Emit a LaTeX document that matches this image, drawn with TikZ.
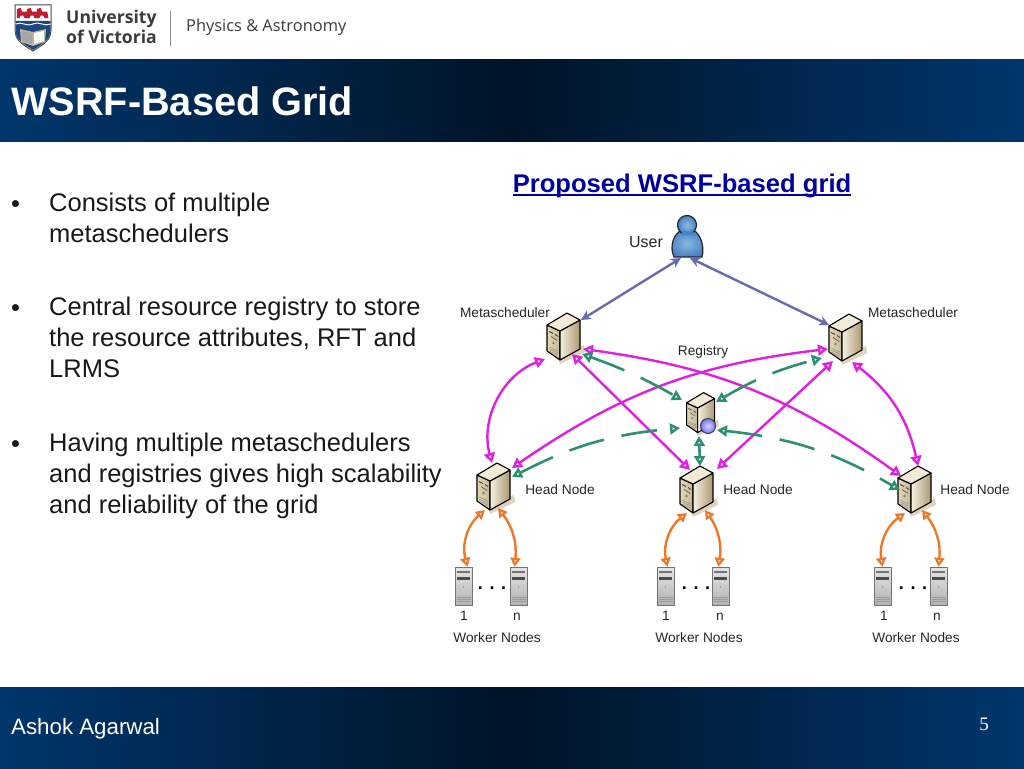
\documentclass[tikz,border=0pt]{standalone}
\usepackage{fontspec}
\setmainfont{Liberation Sans}
\newfontfamily\logofont{Open Sans}
\newfontfamily\numfont{Liberation Serif}
\usepackage{xcolor}
\usetikzlibrary{arrows.meta}

\definecolor{navy}{RGB}{0,54,108}
\definecolor{navydark}{RGB}{0,20,40}
\definecolor{titleblue}{RGB}{0,0,160}
\definecolor{userline}{RGB}{106,106,176}
\definecolor{metaline}{RGB}{224,32,224}
\definecolor{regline}{RGB}{46,144,112}
\definecolor{workline}{RGB}{238,120,40}
\definecolor{logotext}{RGB}{60,60,60}
\definecolor{srvshadow}{RGB}{222,212,190}
\definecolor{srvtop}{RGB}{242,234,214}
\definecolor{srvlight}{RGB}{246,240,225}
\definecolor{srvtan}{RGB}{172,152,112}
\definecolor{srvfront}{RGB}{226,214,182}
\definecolor{srvfrontb}{RGB}{200,184,148}
\definecolor{userblue}{RGB}{70,130,195}
\definecolor{userpale}{RGB}{140,185,225}
\definecolor{crestblue}{RGB}{30,70,130}
\definecolor{crestred}{RGB}{190,30,50}

\tikzset{
	server/.pic={
		\fill[srvshadow] (-6,20) -- (20,8) -- (21,15) -- (-4,27) -- cycle;
		\shade[left color=srvfront,right color=srvfrontb,draw=black,line width=1.1pt,line join=round]
			(-17,-12) -- (-4,-6) -- (-4,23) -- (-17,14) -- cycle;
		\shade[left color=srvlight,right color=srvtan,draw=black,line width=1.1pt,line join=round]
			(-4,-6) -- (16,-17) -- (16,12) -- (-4,23) -- cycle;
		\fill[srvtop,draw=black,line width=1.1pt,line join=round] (-17,-12) -- (3,-24) -- (16,-17) -- (-4,-6) -- cycle;
		\fill[black!75] (-15,-6) -- (-11,-4) -- (-11,-3) -- (-15,-5) -- cycle;
		\fill[black!75] (-9,-3) -- (-6,-1) -- (-6,0) -- (-9,-2) -- cycle;
		\fill[black!60] (-13,-1) -- (-7,3) -- (-7,4) -- (-13,0) -- cycle;
		\fill[black!50] (-10.5,6) circle (1.3);
		\foreach \gy in {10,12,14} {\draw[black!45,line width=0.5pt] (-15,\gy) -- (-6,\gy+4);}
	},
	worker/.pic={
		\shade[top color=black!10,bottom color=black!30,draw=black!55,line width=0.5pt] (-8.5,-19) rectangle (8.5,19);
		\fill[black!55] (-6.5,-15.5) rectangle (6.5,-13);
		\fill[black!70] (-6.5,-9) rectangle (6.5,-6.5);
		\fill[green!50!black!60] (0,1) circle (0.9);
		\foreach \gy in {11,13,15} {\draw[black!40,line width=0.4pt] (-7,\gy) -- (7,\gy);}
	},
	bird/.pic={
		\fill[crestred] (-4,-3) -- (-1,-4) -- (0,-1) -- (4,-1) -- (5,4) -- (2,4) -- (1,2) -- (-1,2) -- (-2,4) -- (-4,4) -- cycle;
	}
}

\begin{document}
\begin{tikzpicture}[x=1pt,y=-1pt]
	\tikzstyle{srv}=[minimum width=34pt,minimum height=48pt,inner sep=0pt]
	\tikzstyle{wrk}=[minimum width=17pt,minimum height=38pt,inner sep=0pt]
	\tikzstyle{lbl}=[font=\fontsize{13.7}{16}\selectfont,text=black!85,inner sep=0pt]
	\tikzstyle{dots}=[font=\fontsize{18}{20}\bfseries\selectfont,text=black,inner sep=0pt]
	\tikzstyle{bodytext}=[font=\fontsize{25.5}{31}\selectfont,align=left,anchor=north west,inner sep=0pt,text=black!90]
	\tikzstyle{bullet}=[font=\fontsize{25.5}{31}\selectfont,anchor=base west,inner sep=0pt,text=black!90]
	\tikzstyle{userarrow}=[{Stealth[length=10pt,width=10pt]}-{Stealth[length=10pt,width=10pt]},userline,line width=2.4pt]
	\tikzstyle{metaarrow}=[{Triangle[open,fill=white,length=10pt,width=11pt]}-{Triangle[open,fill=white,length=10pt,width=11pt]},metaline,line width=2.4pt]
	\tikzstyle{regarrow}=[{Triangle[open,fill=white,length=10pt,width=11pt]}-{Triangle[open,fill=white,length=10pt,width=11pt]},regline,line width=2.6pt,dash pattern=on 36pt off 18pt]
	\tikzstyle{workarrow}=[{Triangle[open,fill=white,length=9pt,width=10pt]}-{Triangle[open,fill=white,length=9pt,width=10pt]},workline,line width=2.4pt]

	\useasboundingbox (0,0) rectangle (1024,768);
	\fill[white] (0,0) rectangle (1024,768);

	% bands
	\shade[left color=navy,right color=navy,middle color=navydark] (0,59) rectangle (1024,141);
	\shade[left color=navy,right color=navy,middle color=navydark] (0,687) rectangle (1024,768);
	\node[font=\fontsize{39.7}{42}\bfseries\selectfont,text=white,anchor=west,inner sep=0pt] (title) at (11,101) {WSRF-Based Grid};
	\node[font=\fontsize{22.3}{26}\selectfont,text=white,anchor=west,inner sep=0pt] (author) at (11,729) {Ashok Agarwal};
	\node[font=\fontsize{19}{22}\numfont\selectfont,text=white,inner sep=0pt] (page) at (984,724) {5};

	% logo
	\fill[white,draw=black!70,line width=1pt] (15,5) -- (51,5) -- (51,30) .. controls (51,42) and (40,46) .. (33,51) .. controls (26,46) and (15,42) .. (15,30) -- cycle;
	\pic[scale=1.3] at (22,13) {bird};
	\pic[scale=1.3] at (32,13) {bird};
	\pic[scale=1.3] at (42,13) {bird};
	\fill[crestblue] (15.5,21) -- (50.5,21) -- (50.5,30) .. controls (50.5,41) and (40,45) .. (33,50) .. controls (26,45) and (15.5,41) .. (15.5,30) -- cycle;
	\draw[white,line width=1pt] (15.5,24) .. controls (22,21) and (26,27) .. (33,24) .. controls (40,21) and (44,27) .. (50.5,24);
	\fill[yellow!45!black!55] (20,29) -- (33,32) -- (46,29) -- (45,42) -- (33,46) -- (21,42) -- cycle;
	\fill[white] (34,33) -- (44,31) -- (44,41) -- (34,44) -- cycle;
	\fill[black!35] (22,31) -- (32,33) -- (32,44) -- (22,41) -- cycle;
	\node[font=\fontsize{17.6}{19.5}\logofont\bfseries\selectfont,text=logotext,align=left,anchor=north west,inner sep=0pt] (uvic) at (66,10) {University\\of Victoria};
	\draw[black!45,line width=1pt] (170,11) -- (170,46);
	\node[font=\fontsize{16.4}{20}\logofont\selectfont,text=logotext,anchor=west,inner sep=0pt] (phys) at (186,27) {Physics \& Astronomy};

	% text
	\node[bullet] (b1) at (11,212) {•};
	\node[bodytext] (t1) at (49,193) {Consists of multiple\\metaschedulers};
	\node[bullet] (b2) at (11,316) {•};
	\node[bodytext] (t2) at (49,297) {Central resource registry to store\\the resource attributes, RFT and\\LRMS};
	\node[bullet] (b3) at (11,452) {•};
	\node[bodytext] (t3) at (49,433) {Having multiple metaschedulers\\and registries gives high scalability\\and reliability of the grid};
	\node[font=\fontsize{25.6}{30}\bfseries\selectfont,text=titleblue,inner sep=0pt] (head) at (682,185.5) {Proposed WSRF-based grid};
	\draw[titleblue,line width=1.6pt] ([shift={(0,3)}]head.base west) -- ([shift={(0,3)}]head.base east);

	% machines
	\node[srv] (ML) at (564,337) {};
	\node[srv] (MR) at (846,338) {};
	\node[srv] (REG) at (701,413) {};
	\node[srv] (HL) at (494,487) {};
	\node[srv] (HM) at (697,490) {};
	\node[srv] (HR) at (915,490) {};
	\pic at (ML) {server};
	\pic at (MR) {server};
	\pic[scale=0.85] at (REG) {server};
	\pic at (HL) {server};
	\pic at (HM) {server};
	\pic at (HR) {server};

	\node[wrk] (W1) at (463.5,586) {};
	\node[wrk] (Wn) [right of=W1,node distance=55pt] {};
	\node[wrk] (X1) at (665.5,586) {};
	\node[wrk] (Xn) [right of=X1,node distance=55pt] {};
	\node[wrk] (Y1) at (882.5,586) {};
	\node[wrk] (Yn) [right of=Y1,node distance=56pt] {};
	\foreach \w in {W1,Wn,X1,Xn,Y1,Yn} {\pic at (\w) {worker};}

	% registry globe
	\shade[inner color=blue!15!white,outer color=blue!55!white,draw=black!75,line width=1pt] ([shift={(7,13)}]REG.center) circle (7.5);

	% user
	\node[minimum width=32pt,minimum height=42pt,inner sep=0pt] (U) at (688,236) {};
	\shade[inner color=userpale,outer color=userblue,draw=black!85,line width=1.2pt]
		([shift={(-14,21)}]U.center) .. controls ([shift={(-19,10)}]U.center) and ([shift={(-14,-3)}]U.center) .. ([shift={(-6,-6)}]U.center)
		-- ([shift={(5,-6)}]U.center) .. controls ([shift={(12,-3)}]U.center) and ([shift={(17,10)}]U.center) .. ([shift={(14,21)}]U.center) -- cycle;
	\shade[inner color=userpale,outer color=userblue,draw=black!85,line width=1.2pt] ([shift={(-1,-11)}]U.center) circle (9.5);
	\fill[userblue] ([shift={(-6,-5)}]U.center) rectangle ([shift={(5,-1)}]U.center);

	% labels
	\node[lbl,font=\fontsize{16}{18}\selectfont] (lu) at (646,242) {User};
	\node[lbl] (lml) at (505,313) {Metascheduler};
	\node[lbl] (lmr) at (913,313) {Metascheduler};
	\node[lbl] (lr) at (703,352) {Registry};
	\node[lbl] (lhl) at (560,490) {Head Node};
	\node[lbl] (lhm) at (758,490) {Head Node};
	\node[lbl] (lhr) at (975,490) {Head Node};
	\node[dots] (d1) at (492,588) {. . .};
	\node[dots] (d2) at (696,588) {. . .};
	\node[dots] (d3) at (913,588) {. . .};
	\node[lbl] (n1a) at (464,616) {1};
	\node[lbl] (n1b) at (517,617) {n};
	\node[lbl] (n2a) at (666,616) {1};
	\node[lbl] (n2b) at (720,617) {n};
	\node[lbl] (n3a) at (884,616) {1};
	\node[lbl] (n3b) at (937,617) {n};
	\node[lbl] (wl1) at (497,638) {Worker Nodes};
	\node[lbl] (wl2) at (699,638) {Worker Nodes};
	\node[lbl] (wl3) at (916,638) {Worker Nodes};

	% connectors
	\draw[userarrow] ([shift={(-7,22)}]U.center) -- ([shift={(17,-17)}]ML.center);
	\draw[userarrow] ([shift={(2,22)}]U.center) -- ([shift={(-17,-13)}]MR.center);

	\draw[metaarrow] ([shift={(-19,22)}]ML.center) to[bend right=42] ([shift={(-2,-24)}]HL.center);
	\draw[metaarrow] ([shift={(19,12)}]ML.center) to[bend left=14] ([shift={(-14,-14)}]HR.center);
	\draw[metaarrow] ([shift={(8,17)}]ML.center) -- ([shift={(-7,-20)}]HM.center);
	\draw[metaarrow] ([shift={(-18,11)}]MR.center) to[bend right=14] ([shift={(18,-19)}]HL.center);
	\draw[metaarrow] ([shift={(-13,23)}]MR.center) -- ([shift={(20,-21)}]HM.center);
	\draw[metaarrow] ([shift={(6,24)}]MR.center) to[bend left=20] ([shift={(3,-24)}]HR.center);

	\draw[regarrow] ([shift={(18,17)}]ML.center) to[bend left=5] ([shift={(-19,-13)}]REG.center);
	\draw[regarrow] ([shift={(15,-11)}]REG.center) to[bend left=8] ([shift={(-24,20)}]MR.center);
	\draw[regarrow] ([shift={(18,-10)}]HL.center) to[bend left=11] ([shift={(-21,15)}]REG.center);
	\draw[regarrow] ([shift={(16,17)}]REG.center) to[bend left=12] ([shift={(-15,0)}]HR.center);
	\draw[regarrow,dash pattern=] ([shift={(-2,23)}]REG.center) -- ([shift={(3,-24)}]HM.center);

	\draw[workarrow] ([shift={(-9,23)}]HL.center) to[bend right=32] ([shift={(4,0)}]W1.north);
	\draw[workarrow] ([shift={(4,21)}]HL.center) to[bend left=22] ([shift={(-4,0)}]Wn.north);
	\draw[workarrow] ([shift={(-10,23)}]HM.center) to[bend right=32] ([shift={(2,0)}]X1.north);
	\draw[workarrow] ([shift={(8,20)}]HM.center) to[bend left=22] ([shift={(-2,0)}]Xn.north);
	\draw[workarrow] ([shift={(-10,23)}]HR.center) to[bend right=32] (Y1.north);
	\draw[workarrow] ([shift={(7,20)}]HR.center) to[bend left=22] (Yn.north);
\end{tikzpicture}
\end{document}
